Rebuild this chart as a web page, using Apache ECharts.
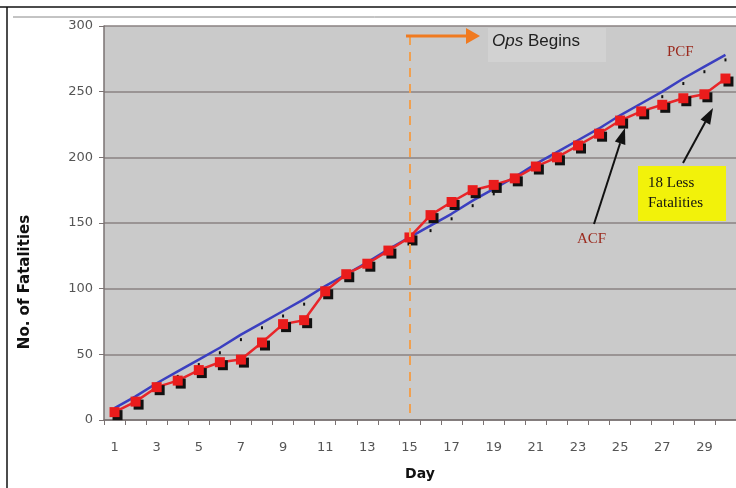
<!DOCTYPE html>
<html><head><meta charset="utf-8">
<script src="https://cdn.jsdelivr.net/npm/echarts@6/dist/echarts.min.js"></script>
<style>html,body{margin:0;padding:0;background:#fff}#c{width:736px;height:488px}</style>
</head><body><div id="c"></div>
<script>
var days = [];
for (var i = 1; i <= 30; i++) days.push(String(i));
var acf = [6, 14, 25, 30, 38, 44, 46, 59, 73, 76, 98, 111, 119, 129, 139, 156, 166, 175, 179, 184, 193, 200, 209, 218, 228, 235, 240, 245, 248, 260];
var pcf = [9, 18, 28, 37, 46, 55, 65, 74, 83, 92, 102, 111, 120, 130, 139, 148, 157, 167, 176, 185, 195, 204, 213, 222, 232, 241, 250, 260, 269, 278];
var opsDay = '15';

function arrow(x1, y1, x2, y2, color, w, hl, hw) {
  var dx = x2 - x1, dy = y2 - y1, L = Math.sqrt(dx*dx + dy*dy);
  var ux = dx / L, uy = dy / L, px = -uy, py = ux;
  var bx = x2 - ux*hl, by = y2 - uy*hl;
  return [
    {type:'line', z:100, shape:{x1:x1,y1:y1,x2:bx,y2:by}, style:{stroke:color, lineWidth:w}},
    {type:'polygon', z:100, shape:{points:[[x2,y2],[bx+px*hw/2,by+py*hw/2],[bx-px*hw/2,by-py*hw/2]]}, style:{fill:color}}
  ];
}

var chart = echarts.init(document.getElementById('c'));
var graphics = [
  {type:'line', shape:{x1:0,y1:7,x2:736,y2:7}, style:{stroke:'#111', lineWidth:1.5}},
  {type:'line', shape:{x1:7,y1:7,x2:7,y2:488}, style:{stroke:'#111', lineWidth:1.5}},
  {type:'line', shape:{x1:13,y1:17,x2:736,y2:17}, style:{stroke:'#888', lineWidth:1}},
  {type:'rect', z:90, shape:{x:488,y:28,width:118,height:34}, style:{fill:'#d2d2d2'}},
  {type:'text', z:100, left:492, top:33, style:{rich:{i:{fontStyle:'italic', fontFamily:'Liberation Sans', fontSize:17, fill:'#222'}, n:{fontFamily:'Liberation Sans', fontSize:17, fill:'#222'}}, text:'{i|Ops}{n| Begins}'}},
  {type:'text', z:100, left:667, top:45, style:{text:'PCF', fontFamily:'Liberation Serif', fontSize:15, fill:'#9b2a1e'}},
  {type:'text', z:100, left:577, top:232, style:{text:'ACF', fontFamily:'Liberation Serif', fontSize:15, fill:'#9b2a1e'}},
  {type:'rect', z:95, shape:{x:638,y:166,width:88,height:55}, style:{fill:'#f2f20a'}},
  {type:'text', z:100, left:648, top:173, style:{text:'18 Less\nFatalities', fontFamily:'Liberation Serif', fontSize:15, lineHeight:20, fill:'#111'}},
  {type:'text', z:100, x:25, y:282, rotation:Math.PI/2, style:{text:'No. of Fatalities', fontFamily:'DejaVu Sans', fontWeight:'bold', fontSize:15, fill:'#111', align:'center', verticalAlign:'middle'}}
];
graphics = graphics.concat(arrow(406,36,480,36,'#f07a20',3,14,16));
graphics = graphics.concat(arrow(594,224,625,128,'#111',2,16,11));
graphics = graphics.concat(arrow(683,163,713,108,'#111',2,16,11));

chart.setOption({
  animation:false,
  backgroundColor:'#fff',
  grid:{left:104, top:26, width:636, height:394, show:true, backgroundColor:'#cacaca', borderWidth:0},
  xAxis:{type:'category', data:days, boundaryGap:true,
    name:'Day', nameLocation:'middle', nameGap:47,
    nameTextStyle:{fontFamily:'DejaVu Sans', fontWeight:'bold', fontSize:14, color:'#111'},
    axisLine:{lineStyle:{color:'#7a7272', width:1.5}},
    axisTick:{show:true, length:5, interval:0, lineStyle:{color:'#7a7272'}},
    axisLabel:{interval:1, margin:21, fontFamily:'DejaVu Sans', fontSize:13, color:'#555'}},
  yAxis:{type:'value', min:0, max:300, interval:50,
    axisLine:{show:true, lineStyle:{color:'#7a7272', width:1.5}},
    axisTick:{show:true, length:5, lineStyle:{color:'#7a7272'}},
    splitLine:{lineStyle:{color:'#8a8282', width:1.5}},
    axisLabel:{margin:11, fontFamily:'DejaVu Sans', fontSize:13, color:'#555'}},
  graphic:graphics,
  series:[
    {name:'PCF', type:'line', data:pcf, z:3,
      lineStyle:{color:'#3b3fc0', width:2.5},
      symbol:'rect', symbolSize:[2,3], symbolOffset:[0,5], itemStyle:{color:'#111'},
      markLine:{silent:true, symbol:'none', label:{show:false},
        lineStyle:{color:'#f0a050', type:[9,7], width:2},
        data:[[{xAxis:opsDay, y:36},{xAxis:opsDay, y:420}]]}},
    {name:'ACF', type:'line', data:acf, z:4,
      lineStyle:{color:'#e8262a', width:2.5},
      symbol:'rect', symbolSize:10,
      itemStyle:{color:'#ea1c1c', shadowColor:'#111', shadowOffsetX:3, shadowOffsetY:3, shadowBlur:0}}
  ]
});
</script></body></html>
